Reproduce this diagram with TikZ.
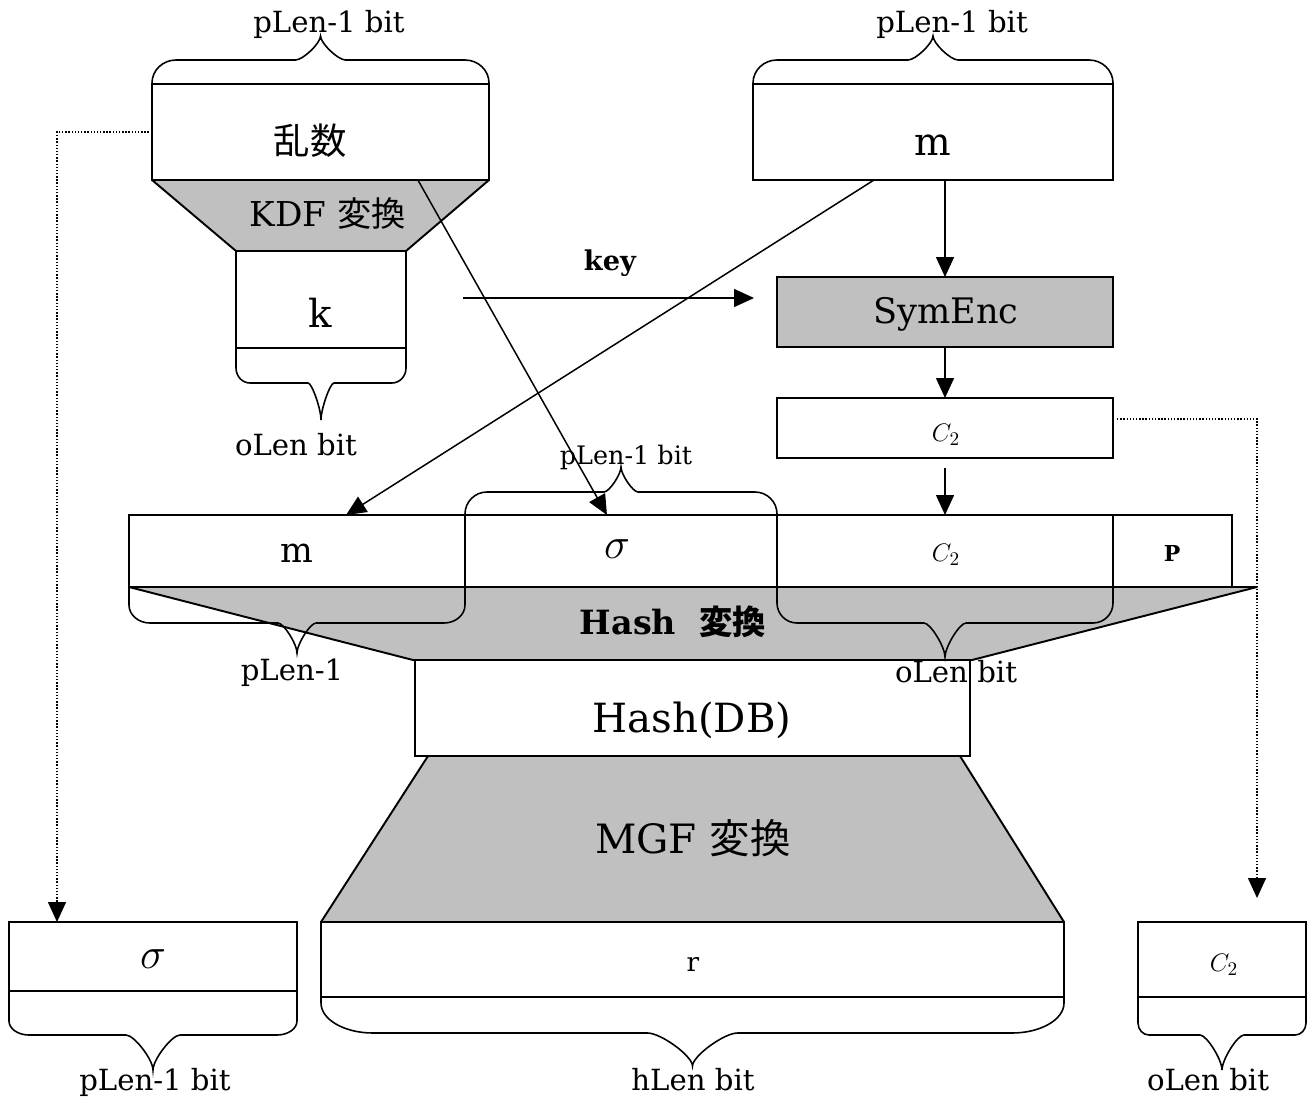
\documentclass[tikz,border=0pt]{standalone}
\usepackage{fontspec}
\setmainfont{DejaVu Serif}
\newfontfamily\cjk{Noto Sans CJK JP}
\usetikzlibrary{arrows.meta,fit,calc}
\definecolor{fillg}{RGB}{192,192,192}
\tikzset{
  box/.style={draw, line width=1.1pt, inner sep=0pt, outer sep=0pt},
  trap/.style={draw, fill=fillg, line width=1.1pt, line join=round},
  conn/.style={line width=0.85pt, -{Triangle[length=0.4cm,width=0.36cm]}},
  dotconn/.style={line width=0.8pt, densely dotted, -{Triangle[length=0.4cm,width=0.36cm]}},
  bracestyle/.style={line width=0.9pt},
  lbl/.style={inner sep=0pt, font=\fontsize{16.6pt}{16.6pt}\selectfont},
  txt/.style={inner sep=0pt, font=\fontsize{#1}{#1}\selectfont},
  btxt/.style={inner sep=0pt, font=\bfseries\fontsize{#1}{#1}\selectfont},
}
% brace: x1, x2, y base, y horizontal, y tip, corner rh, corner rv, cusp half-width
\newcommand\wbrace[8]{%
  \pgfmathsetmacro\bxm{(#1+#2)/2}%
  \pgfmathsetmacro\bd{(#4>#3)?1:-1}%
  \pgfmathsetmacro\bya{#4-\bd*#7}%
  \pgfmathsetmacro\byb{#4-\bd*#7*0.448}%
  \pgfmathsetmacro\bxa{#1+#6*0.448}%
  \pgfmathsetmacro\bxb{#2-#6*0.448}%
  \pgfmathsetmacro\byt{#5+0.3*(#4-#5)}%
  \draw[bracestyle] (#1,#3) -- (#1,\bya) .. controls (#1,\byb) and (\bxa,#4) .. ({#1+#6},#4)
    -- ({\bxm-#8},#4) .. controls ({\bxm-0.7*#8},#4) and (\bxm,\byt) .. (\bxm,#5)
    .. controls (\bxm,\byt) and ({\bxm+0.7*#8},#4) .. ({\bxm+#8},#4)
    -- ({#2-#6},#4) .. controls (\bxb,#4) and (#2,\byb) .. (#2,\bya) -- (#2,#3);
}
\begin{document}
\begin{tikzpicture}[x=0.02cm,y=-0.02cm]
\useasboundingbox (0,0) rectangle (1314,1102);
% trapezoids
\path[trap] (152,180) -- (489,180) -- (406,251) -- (236,251) -- cycle;
\path[trap] (129,587) -- (1257,587) -- (972,660) -- (413,660) -- cycle;
\path[trap] (428,756) -- (960,756) -- (1064,922) -- (321,922) -- cycle;
% boxes
\node[box, fit={(152,84)(489,180)}] (rand) {};
\node[box, fit={(236,251)(406,348)}] (kbox) {};
\node[box, fit={(753,84)(1113,180)}] (mtop) {};
\node[box, fill=fillg, fit={(777,277)(1113,347)}] (symenc) {};
\node[box, fit={(777,398)(1113,458)}] (c2a) {};
\node[box, fit={(129,515)(465,587)}] (mcell) {};
\node[box, fit={(465,515)(777,587)}] (scell) {};
\node[box, fit={(777,515)(1113,587)}] (ccell) {};
\node[box, fit={(1113,515)(1232,587)}] (pcell) {};
\node[box, fit={(415,660)(970,756)}] (hashdb) {};
\node[box, fit={(321,922)(1064,997)}] (rbox) {};
\node[box, fit={(9,922)(297,991)}] (sbox) {};
\node[box, fit={(1138,922)(1306,997)}] (cbox) {};
% texts
\node[txt=20.7pt] (trand) at (310,141) {\cjk 乱数};
\node[txt=19.5pt] (tkdf) at (328,214) {KDF {\cjk 変換}};
\node[txt=22pt] (tk) at (320,313) {k};
\node[txt=22pt] (tm) at (933,145) {m};
\node[txt=20pt] (tsym) at (946,314) {SymEnc};
\node[txt=15pt] (tc2a) at (946,435) {$C_2$};
\node[txt=19.7pt] (tmc) at (297,553) {m};
\node[txt=33pt] (tsc) at (617,549) {$\sigma$};
\node[txt=15pt] (tcc) at (946,555) {$C_2$};
\node[btxt=12.5pt] (tp) at (1172,553) {P};
\node[btxt=19pt] (thash) at (673,622) {Hash\ \ {\cjk 変換}};
\node[txt=22.9pt] (thdb) at (692,720) {Hash(DB)};
\node[txt=23pt] (tmgf) at (693,838) {MGF {\cjk 変換}};
\node[txt=15pt] (tr) at (693,964) {r};
\node[txt=28pt] (tsb) at (153,959) {$\sigma$};
\node[txt=15pt] (tcb) at (1224,965) {$C_2$};
% braces
\wbrace{152}{489}{84}{60}{36}{24}{23}{25}
\wbrace{753}{1113}{84}{60}{36}{24}{23}{25}
\wbrace{236}{406}{348}{383}{420}{14}{15}{13}
\wbrace{465}{777}{515}{492}{467}{22}{22}{17}
\wbrace{129}{465}{587}{623}{653}{21}{18}{19}
\wbrace{777}{1113}{587}{623}{657}{20}{20}{21}
\wbrace{9}{297}{991}{1035}{1070}{20}{14}{27}
\wbrace{321}{1064}{997}{1033}{1066}{52}{30}{45}
\wbrace{1138}{1306}{997}{1035}{1070}{11}{12}{22}
% brace labels
\node[lbl] (l1) at (329,24) {pLen-1 bit};
\node[lbl] (l2) at (952,24) {pLen-1 bit};
\node[lbl] (l3) at (296,445) {oLen bit};
\node[txt=14.5pt] (l4) at (626,457) {pLen-1 bit};
\node[lbl] (l5) at (292,673) {pLen-1};
\node[lbl] (l6) at (956,672) {oLen bit};
\node[lbl] (l7) at (155,1082) {pLen-1 bit};
\node[lbl] (l8) at (693,1080) {hLen bit};
\node[lbl] (l9) at (1208,1080) {oLen bit};
% connectors
\coordinate (keyS) at (463,298);
\coordinate (keyE) at ($(symenc.west)+(-23,-14)$);
\draw[conn] (keyS) -- (keyE);
\node[btxt=15.5pt] (tkey) at (610,263) {key};
\draw[conn] (symenc.north |- mtop.south) -- (symenc.north);
\draw[conn] (symenc.south) -- (c2a.north);
\draw[conn] ($(c2a.south)+(0,10)$) -- (ccell.north);
\draw[conn] ($(mtop.south west)!0.336!(mtop.south east)$) -- ($(mcell.north west)!0.646!(mcell.north east)$);
\draw[conn] ($(rand.south west)!0.789!(rand.south east)$) -- ($(scell.north west)!0.455!(scell.north east)$);
\draw[dotconn] (rand.west) -| ($(sbox.north west)+(48,0)$);
\draw[dotconn] ($(c2a.east)+(4,-9)$) -| ($(cbox.north)+(35,-24)$);
\end{tikzpicture}
\end{document}
